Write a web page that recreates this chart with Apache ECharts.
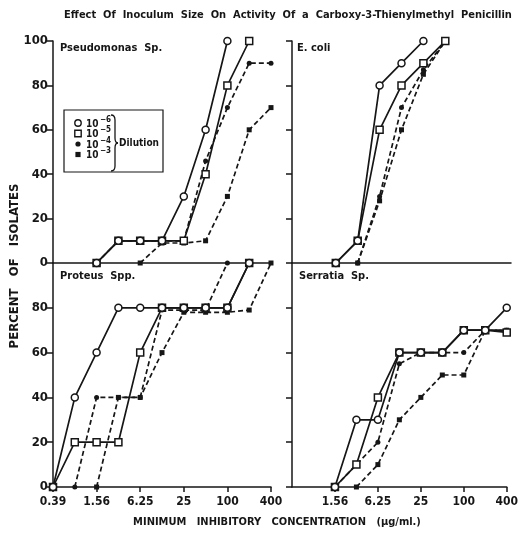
<!DOCTYPE html>
<html>
<head>
<meta charset="utf-8">
<script src="https://cdn.jsdelivr.net/npm/echarts@6/dist/echarts.min.js"></script>
<style>
html,body{margin:0;padding:0;background:#fff;}
#chart{width:521px;height:533px;}
</style>
</head>
<body>
<div id="chart"></div>
<script>
// Concentrations (µg/ml), two-fold dilution steps
const concentrations = ['0.39','0.78','1.56','3.12','6.25','12.5','25','50','100','200','400'];
const yTicks = [0, 20, 40, 60, 80, 100];
const dilutionLabels = ['\u22126', '\u22125', '\u22124', '\u22123'];
const panelNames = ['Pseudomonas  Sp.', 'E. coli', 'Proteus  Spp.', 'Serratia  Sp.'];

// Percent of isolates inhibited (cumulative), per dilution
const pseudomonas_e6 = [null, null, 0, 10, 10, 10, 30, 60, 100, null, null];
const pseudomonas_e5 = [null, null, 0, 10, 10, 10, 10, 40, 80, 100, null];
const pseudomonas_e4 = [null, null, 0, 10, 10, 10, 10, 46, 70, 90, 90];
const pseudomonas_e3 = [null, null, null, null, 0, 9, 9, 10, 30, 60, 70];

const ecoli_e6 = [null, null, 0, 10, 80, 90, 100, null, null, null, null];
const ecoli_e5 = [null, null, 0, 10, 60, 80, 90, 100, null, null, null];
const ecoli_e4 = [null, null, null, 0, 30, 70, 87, 100, null, null, null];
const ecoli_e3 = [null, null, null, 0, 28, 60, 85, 100, null, null, null];

const proteus_e6 = [0, 40, 60, 80, 80, 80, 80, 80, 80, 100, null];
const proteus_e5 = [0, 20, 20, 20, 60, 80, 80, 80, 80, 100, null];
const proteus_e4 = [null, 0, 40, 40, 40, 79, 79, 79, 100, null, null];
const proteus_e3 = [null, null, 0, 40, 40, 60, 78, 78, 78, 79, 100];

const serratia_e6 = [null, null, 0, 30, 30, 60, 60, 60, 70, 70, 80];
const serratia_e5 = [null, null, 0, 10, 40, 60, 60, 60, 70, 70, 69];
const serratia_e4 = [null, null, 0, 10, 20, 55, 60, 60, 60, 70, 70];
const serratia_e3 = [null, null, null, 0, 10, 30, 40, 50, 50, 70, 70];

const panels = [
  [pseudomonas_e6, pseudomonas_e5, pseudomonas_e4, pseudomonas_e3],
  [ecoli_e6, ecoli_e5, ecoli_e4, ecoli_e3],
  [proteus_e6, proteus_e5, proteus_e4, proteus_e3],
  [serratia_e6, serratia_e5, serratia_e4, serratia_e3]
];

const INK = '#161616';
const FONT = "'DejaVu Sans Condensed', 'Liberation Sans Narrow', 'DejaVu Sans', sans-serif";

const grids = [
  {left: 53, top: 41, width: 218, height: 222},
  {left: 292, top: 41, width: 219, height: 222},
  {left: 53, top: 263, width: 218, height: 224},
  {left: 292, top: 263, width: 219, height: 224}
];

const xAxes = grids.map((g, k) => {
  const bottom = k >= 2;
  return {
    type: 'category', gridIndex: k, data: concentrations, boundaryGap: false,
    axisLine: {show: true, lineStyle: {color: INK, width: 1.5}},
    axisTick: {show: bottom, interval: function(i){ return i % 2 === 0 && !(k === 3 && i === 0); }, length: 5, lineStyle: {color: INK, width: 1.5}},
    axisLabel: {show: bottom, interval: 1, color: INK, fontFamily: FONT, fontWeight: 'bold', fontSize: 12, margin: 9,
      formatter: function(v){ return (k === 3 && v === '0.39') ? '' : v; }},
    splitLine: {show: false}
  };
});

const yAxes = grids.map((g, k) => ({
  type: 'value', gridIndex: k, min: 0, max: 100, interval: 20,
  axisLine: {show: true, lineStyle: {color: INK, width: 1.5}},
  axisTick: {show: true, length: 6, lineStyle: {color: INK, width: 1.5}},
  axisLabel: {show: k === 0 || k === 2, color: INK, fontFamily: FONT, fontWeight: 'bold', fontSize: 13, margin: 5,
    formatter: function(v){ return (k === 2 && v === 100) ? '' : String(v); }},
  splitLine: {show: false}
}));

const styles = [
  {symbol: 'circle', size: 7, open: true, dashed: false},
  {symbol: 'rect', size: 7, open: true, dashed: false},
  {symbol: 'circle', size: 5, open: false, dashed: true},
  {symbol: 'rect', size: 5, open: false, dashed: true}
];

const series = [];
panels.forEach((p, k) => {
  [3, 2, 1, 0].forEach(j => {
    const st = styles[j];
    series.push({
      type: 'line', xAxisIndex: k, yAxisIndex: k, data: p[j],
      symbol: st.symbol, symbolSize: st.size, showSymbol: true,
      connectNulls: false, z: 3 + (3 - j),
      lineStyle: {color: INK, width: 1.7, type: st.dashed ? [5, 3] : 'solid'},
      itemStyle: st.open ? {color: '#fff', borderColor: INK, borderWidth: 1.5, opacity: 1}
                         : {color: INK, borderColor: INK, borderWidth: 0, opacity: 1},
      emphasis: {disabled: true},
      silent: true
    });
  });
});

// Legend box drawn as graphic
const legendRows = [123, 133.5, 144, 154.5];
const braceStyle = {fill: 'none', stroke: INK, lineWidth: 1.3};
const bx = 111;
const legendGraphics = [
  {type: 'rect', shape: {x: 64, y: 110, width: 99, height: 62}, style: {fill: '#fff', stroke: INK, lineWidth: 1.2}, z: 10},
  {type: 'circle', shape: {cx: 78, cy: legendRows[0], r: 3.2}, style: {fill: '#fff', stroke: INK, lineWidth: 1.4}, z: 11},
  {type: 'rect', shape: {x: 74.8, y: legendRows[1] - 3.2, width: 6.4, height: 6.4}, style: {fill: '#fff', stroke: INK, lineWidth: 1.4}, z: 11},
  {type: 'circle', shape: {cx: 78, cy: legendRows[2], r: 2.6}, style: {fill: INK}, z: 11},
  {type: 'rect', shape: {x: 75.4, y: legendRows[3] - 2.6, width: 5.2, height: 5.2}, style: {fill: INK}, z: 11},
  {type: 'bezierCurve', shape: {x1: bx, y1: 115, cpx1: bx + 4, cpy1: 115, x2: bx + 4, y2: 120}, style: braceStyle, z: 11},
  {type: 'line', shape: {x1: bx + 4, y1: 120, x2: bx + 4, y2: 138}, style: braceStyle, z: 11},
  {type: 'bezierCurve', shape: {x1: bx + 4, y1: 138, cpx1: bx + 4, cpy1: 143, x2: bx + 7, y2: 143}, style: braceStyle, z: 11},
  {type: 'bezierCurve', shape: {x1: bx + 7, y1: 143, cpx1: bx + 4, cpy1: 143, x2: bx + 4, y2: 148}, style: braceStyle, z: 11},
  {type: 'line', shape: {x1: bx + 4, y1: 148, x2: bx + 4, y2: 166}, style: braceStyle, z: 11},
  {type: 'bezierCurve', shape: {x1: bx + 4, y1: 166, cpx1: bx + 4, cpy1: 171, x2: bx, y2: 171}, style: braceStyle, z: 11},
  {type: 'text', x: bx + 8, y: 143, style: {text: 'Dilution', fill: INK, font: "bold 10px " + FONT, textVerticalAlign: 'middle'}, z: 11}
];
dilutionLabels.forEach((d, i) => {
  legendGraphics.push({type: 'text', x: 86, y: legendRows[i] + 1, z: 11,
    style: {text: '10', fill: INK, font: "bold 10px " + FONT, textVerticalAlign: 'middle'}});
  legendGraphics.push({type: 'text', x: 100, y: legendRows[i] - 3.5, z: 11,
    style: {text: d, fill: INK, font: "bold 8px " + FONT, textVerticalAlign: 'middle'}});
});

const panelLabelPos = [[60, 48], [297, 48], [60, 276], [299, 276]];
const panelLabels = panelNames.map((n, k) => ({
  type: 'text', x: panelLabelPos[k][0], y: panelLabelPos[k][1], z: 11,
  style: {text: n, fill: INK, font: "bold 11px " + FONT, textVerticalAlign: 'middle'}
}));

const textGraphics = [
  {type: 'text', x: 288, y: 15, z: 11,
    style: {text: 'Effect  Of  Inoculum  Size  On  Activity  Of  a  Carboxy-3-Thienylmethyl  Penicillin',
      fill: INK, font: "bold 11px " + FONT, textAlign: 'center', textVerticalAlign: 'middle'}},
  {type: 'text', x: 277, y: 522, z: 11,
    style: {text: 'MINIMUM   INHIBITORY   CONCENTRATION   (\u00b5g/ml.)',
      fill: INK, font: "bold 11px " + FONT, textAlign: 'center', textVerticalAlign: 'middle'}},
  {type: 'text', x: 15, y: 266, rotation: Math.PI / 2, z: 11,
    style: {text: 'PERCENT   OF   ISOLATES', fill: INK, font: "bold 13px " + FONT, textAlign: 'center', textVerticalAlign: 'middle'}}
];

const chart = echarts.init(document.getElementById('chart'), null, {renderer: 'canvas'});
chart.setOption({
  backgroundColor: '#fff',
  animation: false,
  grid: grids,
  xAxis: xAxes,
  yAxis: yAxes,
  series: series,
  graphic: legendGraphics.concat(panelLabels, textGraphics)
});
</script>
</body>
</html>
